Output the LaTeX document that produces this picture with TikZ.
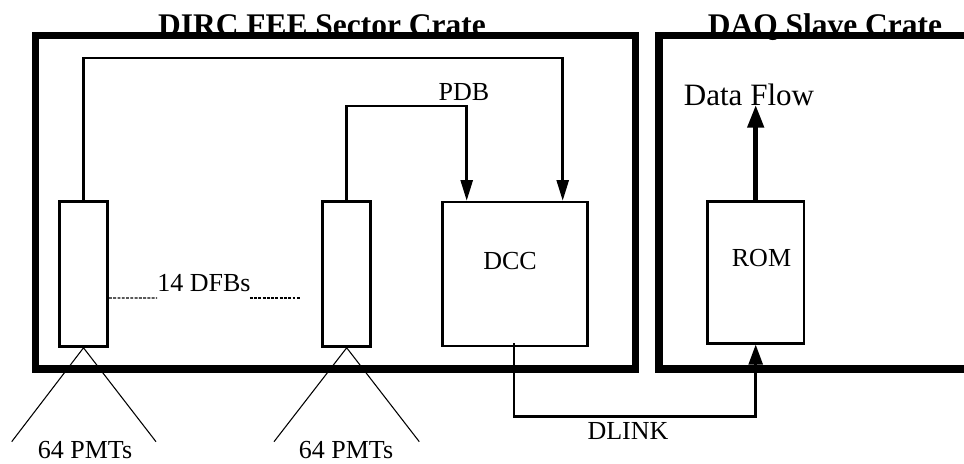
\documentclass[tikz,border=0pt]{standalone}
\usepackage{fontspec}
\setmainfont{Liberation Serif}
\usepackage{tikz}
\usetikzlibrary{arrows.meta,positioning,calc}

\begin{document}
\begin{tikzpicture}[x=0.75pt,y=0.75pt,font=\fontsize{19.5}{22}\selectfont,
  crate/.style={line width=5.8pt},
  board/.style={draw,line width=1.9pt,inner sep=0pt},
  lab/.style={anchor=base,inner sep=0pt},
  title/.style={lab,font=\fontsize{23.6}{26}\selectfont\bfseries},
  link/.style={line width=1.9pt},
  fan/.style={line width=0.8pt},
  dotline/.style={line width=0.9pt,dash pattern=on 2.2pt off 1pt}]
\useasboundingbox (0,0) rectangle (964,-464);
\clip (0,0) rectangle (964,-464);
% the two crates, titles sit on their top edges
\node[title] (fee) at (322,-36) {DIRC FEE Sector Crate};
\node[title] (daq) at (825,-36) {DAQ Slave Crate};
\draw[crate] (35.5,-35.5) rectangle (635.5,-369);
\draw[crate] (990,-35.5) -- (659,-35.5) -- (659,-369) -- (990,-369);
% boards
\node[board,minimum width=36.3pt,minimum height=108.8pt] (dfb1) at (83.5,-274) {};
\node[board,minimum width=36pt,minimum height=108.8pt] (dfb2) at (346.7,-274) {};
\node[board,minimum width=108.5pt,minimum height=108pt] (dcc) at (515,-274) {};
\node[board,minimum width=72.5pt,minimum height=106.2pt] (rom) at (755.7,-272.5) {};
% texts
\node[lab] (dcclab) at (510,-269) {DCC};
\node[lab] (romlab) at (761.5,-266) {ROM};
\node[lab] (dfbs) at (204,-291.7) {14 DFBs};
\node[lab] (pdb) at (464,-100.7) {PDB};
\node[lab,font=\fontsize{23.3}{26}\selectfont] (flow) at (749,-105) {Data Flow};
\node[lab] (dlink) at (628,-439.3) {DLINK};
% PMTs fanning into each DFB
\foreach \b/\x/\l/\r in {1/85/11.7/156, 2/346/274/419.3}{
  \node[lab] (pmt\b) at (\x,-458) {64 PMTs};
  \coordinate (pl\b) at (\l,-441.7);
  \coordinate (pr\b) at (\r,-441.7);
  \draw[fan] (pl\b) -- (dfb\b.south) -- (pr\b);}
% the 14 DFBs between
\draw[dotline] ($(dfb1.east)+(0,-24)$) -- ($(dfbs.base west)+(0,-6.3)$);
\draw[dotline] ($(dfbs.base east)+(-1,-6.3)$) -- ++(50,0);
% DFBs to the DCC
\draw[link,-{Triangle[length=15.5pt,width=9pt]}] (dfb1.north) -- ++(0,142.1) -| ($(dcc.north)+(47.7,0)$);
\draw[link,-{Triangle[length=15.5pt,width=9pt]}] (dfb2.north) -- ++(0,94.4) -| ($(dcc.north)+(-48.3,0)$);
% DLINK to the ROM, then out
\draw[link,-{Triangle[length=15pt,width=10.5pt]}] ($(dcc.south)+(-1,4)$) -- ++(0,-73) -| (rom.south);
\draw[line width=3.5pt,-{Triangle[length=17pt,width=12pt]}] (rom.north) -- (rom.north |- flow.base);
\end{tikzpicture}
\end{document}
